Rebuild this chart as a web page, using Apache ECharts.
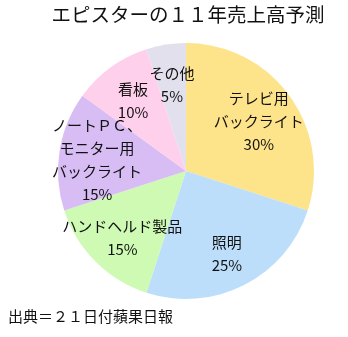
<!DOCTYPE html>
<html>
<head>
<meta charset="utf-8">
<script src="https://cdn.jsdelivr.net/npm/echarts@6/dist/echarts.min.js"></script>
<style>html,body{margin:0;padding:0;background:#fff;}#c{width:348px;height:337px;}</style>
</head>
<body>
<div id="c"></div>
<script>
const titleText = 'エピスターの１１年売上高予測';
const sourceText = '出典＝２１日付蘋果日報';
const categories = ['テレビ用\nバックライト', '照明', 'ハンドヘルド製品', 'ノートＰＣ、\nモニター用\nバックライト', '看板', 'その他'];
const values = [30, 25, 15, 15, 10, 5];
const colors = ['#FDE38A', '#BCDEFA', '#CEFAB4', '#D8BDF4', '#FED0EB', '#E3E0EE'];

const font = '"Noto Sans CJK JP", "Noto Sans", sans-serif';
const pieData = categories.map((c, i) => ({ name: c, value: values[i], itemStyle: { color: colors[i] } }));
const labelData = categories.map((c, i) => ({ name: c, value: values[i] }));

const chart = echarts.init(document.getElementById('c'));
chart.setOption({
  animation: false,
  backgroundColor: '#fff',
  title: {
    text: titleText,
    left: 183, top: 0, textAlign: 'center',
    textStyle: { fontFamily: font, fontSize: 19.5, fontWeight: 'normal', color: '#111' }
  },
  graphic: [{
    type: 'text', left: 8, top: 309,
    style: { text: sourceText, font: '15px ' + font, fill: '#111' }
  }],
  series: [{
    type: 'pie',
    center: [186, 171],
    radius: [0, 128],
    startAngle: 90,
    clockwise: true,
    silent: true,
    avoidLabelOverlap: false,
    label: { show: false },
    labelLine: { show: false },
    itemStyle: { borderWidth: 0 },
    data: pieData
  }, {
    type: 'pie',
    center: [186, 174],
    radius: [46, 128],
    startAngle: 90,
    clockwise: true,
    silent: true,
    avoidLabelOverlap: false,
    minShowLabelAngle: 0,
    itemStyle: { color: 'rgba(0,0,0,0)', borderWidth: 0 },
    label: {
      show: true, position: 'inside',
      formatter: '{b}\n{c}%',
      fontFamily: font, fontSize: 15, lineHeight: 23, color: '#111'
    },
    labelLayout: { hideOverlap: false },
    labelLine: { show: false },
    data: labelData
  }]
});
</script>
</body>
</html>
